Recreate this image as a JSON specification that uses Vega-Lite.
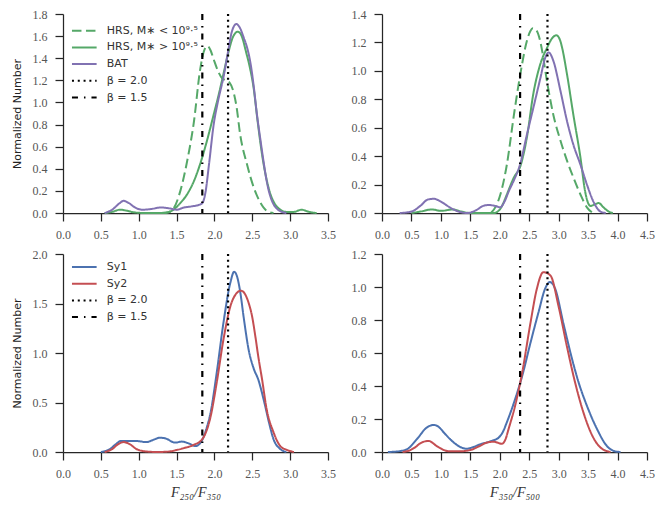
{
"$schema": "https://vega.github.io/schema/vega-lite/v6.json",
"padding": {"left": 11, "top": 8, "right": 5, "bottom": 5},
"config": {
  "view": {"stroke": null},
  "axis": {"grid": false, "domainColor": "#262626", "tickColor": "#262626", "domainWidth": 1.25, "tickWidth": 1.25, "tickSize": 8, "labelFont": "Liberation Serif", "labelFontSize": 12, "labelColor": "#555555", "labelPadding": 8, "labelFlush": false, "labelOverlap": false, "titleFont": "DejaVu Sans", "titleFontSize": 11, "titleFontWeight": "normal", "titleColor": "#222222"},
  "line": {"strokeWidth": 2, "interpolate": "monotone"},
  "rule": {"strokeWidth": 2.2}
},
"datasets": {
  "curves": [
    {"p":"a","s":"lo","x":1.30,"y":0},{"p":"a","s":"lo","x":1.40,"y":0.01},{"p":"a","s":"lo","x":1.46,"y":0.04},{"p":"a","s":"lo","x":1.55,"y":0.20},{"p":"a","s":"lo","x":1.64,"y":0.47},{"p":"a","s":"lo","x":1.73,"y":0.83},{"p":"a","s":"lo","x":1.81,"y":1.29},{"p":"a","s":"lo","x":1.87,"y":1.48},{"p":"a","s":"lo","x":1.91,"y":1.51},{"p":"a","s":"lo","x":1.95,"y":1.47},{"p":"a","s":"lo","x":1.99,"y":1.39},{"p":"a","s":"lo","x":2.05,"y":1.28},{"p":"a","s":"lo","x":2.10,"y":1.22},{"p":"a","s":"lo","x":2.15,"y":1.20},{"p":"a","s":"lo","x":2.20,"y":1.18},{"p":"a","s":"lo","x":2.25,"y":1.10},{"p":"a","s":"lo","x":2.29,"y":0.97},{"p":"a","s":"lo","x":2.34,"y":0.71},{"p":"a","s":"lo","x":2.43,"y":0.44},{"p":"a","s":"lo","x":2.52,"y":0.23},{"p":"a","s":"lo","x":2.61,"y":0.09},{"p":"a","s":"lo","x":2.69,"y":0.02},{"p":"a","s":"lo","x":2.78,"y":0},
    {"p":"a","s":"hi","x":0.55,"y":0},{"p":"a","s":"hi","x":0.65,"y":0.01},{"p":"a","s":"hi","x":0.75,"y":0.03},{"p":"a","s":"hi","x":0.85,"y":0.02},{"p":"a","s":"hi","x":0.95,"y":0.005},{"p":"a","s":"hi","x":1.10,"y":0},{"p":"a","s":"hi","x":1.35,"y":0},{"p":"a","s":"hi","x":1.46,"y":0.03},{"p":"a","s":"hi","x":1.55,"y":0.09},{"p":"a","s":"hi","x":1.64,"y":0.17},{"p":"a","s":"hi","x":1.73,"y":0.29},{"p":"a","s":"hi","x":1.81,"y":0.44},{"p":"a","s":"hi","x":1.90,"y":0.65},{"p":"a","s":"hi","x":1.99,"y":0.89},{"p":"a","s":"hi","x":2.06,"y":1.08},{"p":"a","s":"hi","x":2.12,"y":1.26},{"p":"a","s":"hi","x":2.18,"y":1.44},{"p":"a","s":"hi","x":2.25,"y":1.60},{"p":"a","s":"hi","x":2.31,"y":1.64},{"p":"a","s":"hi","x":2.36,"y":1.60},{"p":"a","s":"hi","x":2.42,"y":1.45},{"p":"a","s":"hi","x":2.47,"y":1.31},{"p":"a","s":"hi","x":2.52,"y":1.12},{"p":"a","s":"hi","x":2.56,"y":0.89},{"p":"a","s":"hi","x":2.61,"y":0.62},{"p":"a","s":"hi","x":2.65,"y":0.44},{"p":"a","s":"hi","x":2.70,"y":0.27},{"p":"a","s":"hi","x":2.74,"y":0.17},{"p":"a","s":"hi","x":2.80,"y":0.08},{"p":"a","s":"hi","x":2.87,"y":0.03},{"p":"a","s":"hi","x":2.95,"y":0.01},{"p":"a","s":"hi","x":3.05,"y":0.01},{"p":"a","s":"hi","x":3.15,"y":0.03},{"p":"a","s":"hi","x":3.25,"y":0.01},{"p":"a","s":"hi","x":3.35,"y":0},
    {"p":"a","s":"bat","x":0.55,"y":0},{"p":"a","s":"bat","x":0.65,"y":0.03},{"p":"a","s":"bat","x":0.75,"y":0.09},{"p":"a","s":"bat","x":0.80,"y":0.11},{"p":"a","s":"bat","x":0.87,"y":0.09},{"p":"a","s":"bat","x":0.95,"y":0.05},{"p":"a","s":"bat","x":1.05,"y":0.03},{"p":"a","s":"bat","x":1.15,"y":0.035},{"p":"a","s":"bat","x":1.30,"y":0.05},{"p":"a","s":"bat","x":1.42,"y":0.04},{"p":"a","s":"bat","x":1.50,"y":0.03},{"p":"a","s":"bat","x":1.60,"y":0.05},{"p":"a","s":"bat","x":1.70,"y":0.06},{"p":"a","s":"bat","x":1.78,"y":0.07},{"p":"a","s":"bat","x":1.84,"y":0.09},{"p":"a","s":"bat","x":1.88,"y":0.18},{"p":"a","s":"bat","x":1.93,"y":0.45},{"p":"a","s":"bat","x":1.99,"y":0.80},{"p":"a","s":"bat","x":2.05,"y":1.02},{"p":"a","s":"bat","x":2.12,"y":1.23},{"p":"a","s":"bat","x":2.18,"y":1.46},{"p":"a","s":"bat","x":2.23,"y":1.64},{"p":"a","s":"bat","x":2.29,"y":1.71},{"p":"a","s":"bat","x":2.34,"y":1.67},{"p":"a","s":"bat","x":2.39,"y":1.58},{"p":"a","s":"bat","x":2.43,"y":1.50},{"p":"a","s":"bat","x":2.48,"y":1.34},{"p":"a","s":"bat","x":2.52,"y":1.14},{"p":"a","s":"bat","x":2.56,"y":0.90},{"p":"a","s":"bat","x":2.61,"y":0.65},{"p":"a","s":"bat","x":2.65,"y":0.46},{"p":"a","s":"bat","x":2.69,"y":0.29},{"p":"a","s":"bat","x":2.73,"y":0.17},{"p":"a","s":"bat","x":2.78,"y":0.08},{"p":"a","s":"bat","x":2.84,"y":0.03},{"p":"a","s":"bat","x":2.89,"y":0.01},{"p":"a","s":"bat","x":2.95,"y":0},
    {"p":"b","s":"lo","x":1.85,"y":0},{"p":"b","s":"lo","x":1.95,"y":0.06},{"p":"b","s":"lo","x":2.01,"y":0.13},{"p":"b","s":"lo","x":2.12,"y":0.34},{"p":"b","s":"lo","x":2.24,"y":0.69},{"p":"b","s":"lo","x":2.35,"y":0.98},{"p":"b","s":"lo","x":2.46,"y":1.21},{"p":"b","s":"lo","x":2.52,"y":1.28},{"p":"b","s":"lo","x":2.56,"y":1.30},{"p":"b","s":"lo","x":2.63,"y":1.28},{"p":"b","s":"lo","x":2.68,"y":1.22},{"p":"b","s":"lo","x":2.72,"y":1.14},{"p":"b","s":"lo","x":2.80,"y":0.93},{"p":"b","s":"lo","x":2.91,"y":0.69},{"p":"b","s":"lo","x":3.03,"y":0.51},{"p":"b","s":"lo","x":3.14,"y":0.37},{"p":"b","s":"lo","x":3.25,"y":0.25},{"p":"b","s":"lo","x":3.37,"y":0.13},{"p":"b","s":"lo","x":3.48,"y":0.04},{"p":"b","s":"lo","x":3.58,"y":0},
    {"p":"b","s":"hi","x":0.50,"y":0},{"p":"b","s":"hi","x":0.65,"y":0.01},{"p":"b","s":"hi","x":0.85,"y":0.025},{"p":"b","s":"hi","x":1.00,"y":0.015},{"p":"b","s":"hi","x":1.20,"y":0.025},{"p":"b","s":"hi","x":1.35,"y":0.01},{"p":"b","s":"hi","x":1.50,"y":0},{"p":"b","s":"hi","x":1.90,"y":0},{"p":"b","s":"hi","x":2.01,"y":0.03},{"p":"b","s":"hi","x":2.06,"y":0.07},{"p":"b","s":"hi","x":2.12,"y":0.13},{"p":"b","s":"hi","x":2.24,"y":0.25},{"p":"b","s":"hi","x":2.35,"y":0.33},{"p":"b","s":"hi","x":2.46,"y":0.53},{"p":"b","s":"hi","x":2.57,"y":0.84},{"p":"b","s":"hi","x":2.69,"y":1.05},{"p":"b","s":"hi","x":2.80,"y":1.16},{"p":"b","s":"hi","x":2.89,"y":1.23},{"p":"b","s":"hi","x":2.96,"y":1.25},{"p":"b","s":"hi","x":3.02,"y":1.22},{"p":"b","s":"hi","x":3.06,"y":1.16},{"p":"b","s":"hi","x":3.14,"y":0.98},{"p":"b","s":"hi","x":3.25,"y":0.69},{"p":"b","s":"hi","x":3.37,"y":0.39},{"p":"b","s":"hi","x":3.45,"y":0.15},{"p":"b","s":"hi","x":3.50,"y":0.07},{"p":"b","s":"hi","x":3.54,"y":0.05},{"p":"b","s":"hi","x":3.61,"y":0.06},{"p":"b","s":"hi","x":3.68,"y":0.07},{"p":"b","s":"hi","x":3.76,"y":0.04},{"p":"b","s":"hi","x":3.85,"y":0.01},{"p":"b","s":"hi","x":3.92,"y":0},
    {"p":"b","s":"bat","x":0.30,"y":0},{"p":"b","s":"bat","x":0.50,"y":0.01},{"p":"b","s":"bat","x":0.65,"y":0.05},{"p":"b","s":"bat","x":0.78,"y":0.095},{"p":"b","s":"bat","x":0.88,"y":0.10},{"p":"b","s":"bat","x":1.00,"y":0.08},{"p":"b","s":"bat","x":1.15,"y":0.04},{"p":"b","s":"bat","x":1.30,"y":0.01},{"p":"b","s":"bat","x":1.45,"y":0},{"p":"b","s":"bat","x":1.60,"y":0.02},{"p":"b","s":"bat","x":1.72,"y":0.05},{"p":"b","s":"bat","x":1.81,"y":0.056},{"p":"b","s":"bat","x":1.92,"y":0.05},{"p":"b","s":"bat","x":2.01,"y":0.04},{"p":"b","s":"bat","x":2.08,"y":0.08},{"p":"b","s":"bat","x":2.16,"y":0.16},{"p":"b","s":"bat","x":2.24,"y":0.23},{"p":"b","s":"bat","x":2.35,"y":0.35},{"p":"b","s":"bat","x":2.46,"y":0.55},{"p":"b","s":"bat","x":2.57,"y":0.74},{"p":"b","s":"bat","x":2.69,"y":0.95},{"p":"b","s":"bat","x":2.77,"y":1.09},{"p":"b","s":"bat","x":2.83,"y":1.13},{"p":"b","s":"bat","x":2.91,"y":1.07},{"p":"b","s":"bat","x":3.03,"y":0.86},{"p":"b","s":"bat","x":3.14,"y":0.65},{"p":"b","s":"bat","x":3.25,"y":0.48},{"p":"b","s":"bat","x":3.37,"y":0.34},{"p":"b","s":"bat","x":3.48,"y":0.20},{"p":"b","s":"bat","x":3.59,"y":0.08},{"p":"b","s":"bat","x":3.71,"y":0.01},{"p":"b","s":"bat","x":3.80,"y":0},
    {"p":"c","s":"sy1","x":0.50,"y":0},{"p":"c","s":"sy1","x":0.62,"y":0.03},{"p":"c","s":"sy1","x":0.70,"y":0.08},{"p":"c","s":"sy1","x":0.76,"y":0.11},{"p":"c","s":"sy1","x":0.85,"y":0.11},{"p":"c","s":"sy1","x":0.98,"y":0.11},{"p":"c","s":"sy1","x":1.10,"y":0.10},{"p":"c","s":"sy1","x":1.20,"y":0.125},{"p":"c","s":"sy1","x":1.28,"y":0.145},{"p":"c","s":"sy1","x":1.36,"y":0.135},{"p":"c","s":"sy1","x":1.48,"y":0.095},{"p":"c","s":"sy1","x":1.57,"y":0.105},{"p":"c","s":"sy1","x":1.65,"y":0.09},{"p":"c","s":"sy1","x":1.75,"y":0.06},{"p":"c","s":"sy1","x":1.80,"y":0.08},{"p":"c","s":"sy1","x":1.85,"y":0.14},{"p":"c","s":"sy1","x":1.90,"y":0.25},{"p":"c","s":"sy1","x":1.95,"y":0.40},{"p":"c","s":"sy1","x":2.03,"y":0.80},{"p":"c","s":"sy1","x":2.12,"y":1.31},{"p":"c","s":"sy1","x":2.21,"y":1.71},{"p":"c","s":"sy1","x":2.26,"y":1.82},{"p":"c","s":"sy1","x":2.30,"y":1.77},{"p":"c","s":"sy1","x":2.34,"y":1.62},{"p":"c","s":"sy1","x":2.39,"y":1.34},{"p":"c","s":"sy1","x":2.45,"y":1.04},{"p":"c","s":"sy1","x":2.52,"y":0.84},{"p":"c","s":"sy1","x":2.58,"y":0.73},{"p":"c","s":"sy1","x":2.65,"y":0.53},{"p":"c","s":"sy1","x":2.72,"y":0.30},{"p":"c","s":"sy1","x":2.78,"y":0.13},{"p":"c","s":"sy1","x":2.87,"y":0.03},{"p":"c","s":"sy1","x":2.95,"y":0},
    {"p":"c","s":"sy2","x":0.55,"y":0},{"p":"c","s":"sy2","x":0.65,"y":0.03},{"p":"c","s":"sy2","x":0.73,"y":0.08},{"p":"c","s":"sy2","x":0.80,"y":0.10},{"p":"c","s":"sy2","x":0.88,"y":0.08},{"p":"c","s":"sy2","x":0.97,"y":0.03},{"p":"c","s":"sy2","x":1.10,"y":0.005},{"p":"c","s":"sy2","x":1.25,"y":0},{"p":"c","s":"sy2","x":1.40,"y":0.005},{"p":"c","s":"sy2","x":1.50,"y":0.02},{"p":"c","s":"sy2","x":1.60,"y":0.04},{"p":"c","s":"sy2","x":1.72,"y":0.07},{"p":"c","s":"sy2","x":1.84,"y":0.13},{"p":"c","s":"sy2","x":1.95,"y":0.36},{"p":"c","s":"sy2","x":2.03,"y":0.70},{"p":"c","s":"sy2","x":2.12,"y":1.14},{"p":"c","s":"sy2","x":2.21,"y":1.47},{"p":"c","s":"sy2","x":2.30,"y":1.61},{"p":"c","s":"sy2","x":2.35,"y":1.63},{"p":"c","s":"sy2","x":2.40,"y":1.60},{"p":"c","s":"sy2","x":2.45,"y":1.51},{"p":"c","s":"sy2","x":2.50,"y":1.36},{"p":"c","s":"sy2","x":2.54,"y":1.17},{"p":"c","s":"sy2","x":2.58,"y":0.96},{"p":"c","s":"sy2","x":2.63,"y":0.73},{"p":"c","s":"sy2","x":2.69,"y":0.43},{"p":"c","s":"sy2","x":2.78,"y":0.20},{"p":"c","s":"sy2","x":2.87,"y":0.06},{"p":"c","s":"sy2","x":2.96,"y":0.02},{"p":"c","s":"sy2","x":3.05,"y":0},
    {"p":"d","s":"sy1","x":0.10,"y":0},{"p":"d","s":"sy1","x":0.25,"y":0.003},{"p":"d","s":"sy1","x":0.42,"y":0.016},{"p":"d","s":"sy1","x":0.59,"y":0.077},{"p":"d","s":"sy1","x":0.76,"y":0.148},{"p":"d","s":"sy1","x":0.88,"y":0.164},{"p":"d","s":"sy1","x":0.97,"y":0.15},{"p":"d","s":"sy1","x":1.05,"y":0.118},{"p":"d","s":"sy1","x":1.22,"y":0.057},{"p":"d","s":"sy1","x":1.33,"y":0.03},{"p":"d","s":"sy1","x":1.44,"y":0.02},{"p":"d","s":"sy1","x":1.55,"y":0.03},{"p":"d","s":"sy1","x":1.67,"y":0.047},{"p":"d","s":"sy1","x":1.84,"y":0.065},{"p":"d","s":"sy1","x":1.98,"y":0.087},{"p":"d","s":"sy1","x":2.05,"y":0.12},{"p":"d","s":"sy1","x":2.12,"y":0.18},{"p":"d","s":"sy1","x":2.26,"y":0.32},{"p":"d","s":"sy1","x":2.38,"y":0.46},{"p":"d","s":"sy1","x":2.52,"y":0.66},{"p":"d","s":"sy1","x":2.66,"y":0.85},{"p":"d","s":"sy1","x":2.77,"y":0.99},{"p":"d","s":"sy1","x":2.85,"y":1.03},{"p":"d","s":"sy1","x":2.94,"y":0.99},{"p":"d","s":"sy1","x":3.08,"y":0.78},{"p":"d","s":"sy1","x":3.23,"y":0.56},{"p":"d","s":"sy1","x":3.34,"y":0.42},{"p":"d","s":"sy1","x":3.48,"y":0.28},{"p":"d","s":"sy1","x":3.65,"y":0.14},{"p":"d","s":"sy1","x":3.82,"y":0.036},{"p":"d","s":"sy1","x":3.95,"y":0.005},{"p":"d","s":"sy1","x":4.05,"y":0},
    {"p":"d","s":"sy2","x":0.35,"y":0},{"p":"d","s":"sy2","x":0.47,"y":0.01},{"p":"d","s":"sy2","x":0.57,"y":0.03},{"p":"d","s":"sy2","x":0.65,"y":0.053},{"p":"d","s":"sy2","x":0.79,"y":0.067},{"p":"d","s":"sy2","x":0.93,"y":0.036},{"p":"d","s":"sy2","x":1.05,"y":0.012},{"p":"d","s":"sy2","x":1.16,"y":0.004},{"p":"d","s":"sy2","x":1.30,"y":0.004},{"p":"d","s":"sy2","x":1.50,"y":0.012},{"p":"d","s":"sy2","x":1.65,"y":0.035},{"p":"d","s":"sy2","x":1.78,"y":0.057},{"p":"d","s":"sy2","x":1.90,"y":0.062},{"p":"d","s":"sy2","x":2.04,"y":0.05},{"p":"d","s":"sy2","x":2.10,"y":0.08},{"p":"d","s":"sy2","x":2.15,"y":0.14},{"p":"d","s":"sy2","x":2.26,"y":0.28},{"p":"d","s":"sy2","x":2.38,"y":0.48},{"p":"d","s":"sy2","x":2.52,"y":0.78},{"p":"d","s":"sy2","x":2.63,"y":0.99},{"p":"d","s":"sy2","x":2.74,"y":1.09},{"p":"d","s":"sy2","x":2.86,"y":1.07},{"p":"d","s":"sy2","x":3.00,"y":0.88},{"p":"d","s":"sy2","x":3.14,"y":0.64},{"p":"d","s":"sy2","x":3.28,"y":0.42},{"p":"d","s":"sy2","x":3.42,"y":0.24},{"p":"d","s":"sy2","x":3.57,"y":0.10},{"p":"d","s":"sy2","x":3.71,"y":0.027},{"p":"d","s":"sy2","x":3.88,"y":0}
  ],
  "vlines": [
    {"p":"a","s":"b20","x":2.18},{"p":"a","s":"b15","x":1.84},
    {"p":"b","s":"b20","x":2.81},{"p":"b","s":"b15","x":2.345},
    {"p":"c","s":"b20","x":2.18},{"p":"c","s":"b15","x":1.84},
    {"p":"d","s":"b20","x":2.81},{"p":"d","s":"b15","x":2.345}
  ]
},
"columns": 2,
"bounds": "flush",
"spacing": {"row": 41, "column": 54},
"resolve": {"scale": {"color": "independent", "strokeDash": "independent"}, "legend": {"color": "independent", "strokeDash": "independent"}},
"concat": [
  {
    "width": 265, "height": 199,
    "layer": [
      {"data": {"name": "curves"}, "transform": [{"filter": "datum.p == 'a'"}], "mark": {"type": "line"},
       "encoding": {
         "x": {"field": "x", "type": "quantitative", "scale": {"domain": [0, 3.5], "nice": false}, "axis": {"title": null, "values": [0,0.5,1,1.5,2,2.5,3,3.5], "format": ".1f", "labelOverlap": false}},
         "y": {"field": "y", "type": "quantitative", "scale": {"domain": [0, 1.8], "nice": false}, "axis": {"title": "Normalized Number", "titlePadding": 10, "values": [0,0.2,0.4,0.6,0.8,1,1.2,1.4,1.6,1.8], "format": ".1f", "labelOverlap": false}},
         "color": {"field": "s", "type": "nominal", "scale": {"domain": ["lo","hi","bat","b20","b15"], "range": ["#55A868","#55A868","#8172B2","#000000","#000000"]},
           "legend": {"orient": "none", "legendX": 11.8, "legendY": 7.2, "title": null, "symbolType": "M-1.45,0H1.45", "symbolSize": 289, "symbolStrokeWidth": 2, "labelFont": "DejaVu Sans", "labelFontSize": 11, "labelColor": "#333333", "rowPadding": 1.7, "labelOffset": 13, "padding": 0,
             "labelExpr": "datum.label == 'lo' ? 'HRS, M∗ < 10⁹·⁵' : datum.label == 'hi' ? 'HRS, M∗ > 10⁹·⁵' : datum.label == 'bat' ? 'BAT' : datum.label == 'b20' ? 'β = 2.0' : 'β = 1.5'"}},
         "strokeDash": {"field": "s", "type": "nominal", "scale": {"domain": ["lo","hi","bat","b20","b15"], "range": [[9.5,4.5],[1,0],[1,0],[2,3.8],[6,6,1.5,6]]}, "legend": null},
         "detail": {"field": "s"}
       }},
      {"data": {"name": "vlines"}, "transform": [{"filter": "datum.p == 'a'"}], "mark": {"type": "rule"},
       "encoding": {
         "x": {"field": "x", "type": "quantitative", "scale": {"domain": [0, 3.5], "nice": false}, "axis": {"title": null, "values": [0,0.5,1,1.5,2,2.5,3,3.5], "format": ".1f", "labelOverlap": false}},
         "color": {"field": "s", "type": "nominal"},
         "strokeDash": {"field": "s", "type": "nominal"}
       }}
    ]
  },
  {
    "width": 265, "height": 199,
    "layer": [
      {"data": {"name": "curves"}, "transform": [{"filter": "datum.p == 'b'"}], "mark": {"type": "line"},
       "encoding": {
         "x": {"field": "x", "type": "quantitative", "scale": {"domain": [0, 4.5], "nice": false}, "axis": {"title": null, "values": [0,0.5,1,1.5,2,2.5,3,3.5,4,4.5], "format": ".1f", "labelOverlap": false}},
         "y": {"field": "y", "type": "quantitative", "scale": {"domain": [0, 1.4], "nice": false}, "axis": {"title": null, "values": [0,0.2,0.4,0.6,0.8,1,1.2,1.4], "format": ".1f", "labelOverlap": false}},
         "color": {"field": "s", "type": "nominal", "scale": {"domain": ["lo","hi","bat","b20","b15"], "range": ["#55A868","#55A868","#8172B2","#000000","#000000"]}, "legend": null},
         "strokeDash": {"field": "s", "type": "nominal", "scale": {"domain": ["lo","hi","bat","b20","b15"], "range": [[9.5,4.5],[1,0],[1,0],[2,3.8],[6,6,1.5,6]]}, "legend": null},
         "detail": {"field": "s"}
       }},
      {"data": {"name": "vlines"}, "transform": [{"filter": "datum.p == 'b'"}], "mark": {"type": "rule"},
       "encoding": {
         "x": {"field": "x", "type": "quantitative", "scale": {"domain": [0, 4.5], "nice": false}, "axis": {"title": null, "values": [0,0.5,1,1.5,2,2.5,3,3.5,4,4.5], "format": ".1f", "labelOverlap": false}},
         "color": {"field": "s", "type": "nominal"},
         "strokeDash": {"field": "s", "type": "nominal"}
       }}
    ]
  },
  {
    "width": 265, "height": 198,
    "layer": [
      {"data": {"name": "curves"}, "transform": [{"filter": "datum.p == 'c'"}], "mark": {"type": "line"},
       "encoding": {
         "x": {"field": "x", "type": "quantitative", "scale": {"domain": [0, 3.5], "nice": false}, "axis": {"title": "F₂₅₀/F₃₅₀", "titleFont": "Liberation Serif", "titleFontStyle": "italic", "titleFontSize": 14, "titleColor": "#333333", "titlePadding": 6, "values": [0,0.5,1,1.5,2,2.5,3,3.5], "format": ".1f", "labelOverlap": false}},
         "y": {"field": "y", "type": "quantitative", "scale": {"domain": [0, 2.0], "nice": false}, "axis": {"title": "Normalized Number", "titlePadding": 10, "values": [0,0.5,1,1.5,2], "format": ".1f", "labelOverlap": false}},
         "color": {"field": "s", "type": "nominal", "scale": {"domain": ["sy1","sy2","b20","b15"], "range": ["#4C72B0","#C44E52","#000000","#000000"]},
           "legend": {"orient": "none", "legendX": 11.8, "legendY": 3.5, "title": null, "symbolType": "M-1.45,0H1.45", "symbolSize": 289, "symbolStrokeWidth": 2, "labelFont": "DejaVu Sans", "labelFontSize": 11, "labelColor": "#333333", "rowPadding": 1.7, "labelOffset": 13, "padding": 0,
             "labelExpr": "datum.label == 'sy1' ? 'Sy1' : datum.label == 'sy2' ? 'Sy2' : datum.label == 'b20' ? 'β = 2.0' : 'β = 1.5'"}},
         "strokeDash": {"field": "s", "type": "nominal", "scale": {"domain": ["sy1","sy2","b20","b15"], "range": [[1,0],[1,0],[2,3.8],[6,6,1.5,6]]}, "legend": null},
         "detail": {"field": "s"}
       }},
      {"data": {"name": "vlines"}, "transform": [{"filter": "datum.p == 'c'"}], "mark": {"type": "rule"},
       "encoding": {
         "x": {"field": "x", "type": "quantitative", "scale": {"domain": [0, 3.5], "nice": false}, "axis": {"title": "F₂₅₀/F₃₅₀", "titleFont": "Liberation Serif", "titleFontStyle": "italic", "titleFontSize": 14, "titleColor": "#333333", "titlePadding": 6, "values": [0,0.5,1,1.5,2,2.5,3,3.5], "format": ".1f", "labelOverlap": false}},
         "color": {"field": "s", "type": "nominal"},
         "strokeDash": {"field": "s", "type": "nominal"}
       }}
    ]
  },
  {
    "width": 265, "height": 198,
    "layer": [
      {"data": {"name": "curves"}, "transform": [{"filter": "datum.p == 'd'"}], "mark": {"type": "line"},
       "encoding": {
         "x": {"field": "x", "type": "quantitative", "scale": {"domain": [0, 4.5], "nice": false}, "axis": {"title": "F₃₅₀/F₅₀₀", "titleFont": "Liberation Serif", "titleFontStyle": "italic", "titleFontSize": 14, "titleColor": "#333333", "titlePadding": 6, "values": [0,0.5,1,1.5,2,2.5,3,3.5,4,4.5], "format": ".1f", "labelOverlap": false}},
         "y": {"field": "y", "type": "quantitative", "scale": {"domain": [0, 1.2], "nice": false}, "axis": {"title": null, "values": [0,0.2,0.4,0.6,0.8,1,1.2], "format": ".1f", "labelOverlap": false}},
         "color": {"field": "s", "type": "nominal", "scale": {"domain": ["sy1","sy2","b20","b15"], "range": ["#4C72B0","#C44E52","#000000","#000000"]}, "legend": null},
         "strokeDash": {"field": "s", "type": "nominal", "scale": {"domain": ["sy1","sy2","b20","b15"], "range": [[1,0],[1,0],[2,3.8],[6,6,1.5,6]]}, "legend": null},
         "detail": {"field": "s"}
       }},
      {"data": {"name": "vlines"}, "transform": [{"filter": "datum.p == 'd'"}], "mark": {"type": "rule"},
       "encoding": {
         "x": {"field": "x", "type": "quantitative", "scale": {"domain": [0, 4.5], "nice": false}, "axis": {"title": "F₃₅₀/F₅₀₀", "titleFont": "Liberation Serif", "titleFontStyle": "italic", "titleFontSize": 14, "titleColor": "#333333", "titlePadding": 6, "values": [0,0.5,1,1.5,2,2.5,3,3.5,4,4.5], "format": ".1f", "labelOverlap": false}},
         "color": {"field": "s", "type": "nominal"},
         "strokeDash": {"field": "s", "type": "nominal"}
       }}
    ]
  }
]
}
